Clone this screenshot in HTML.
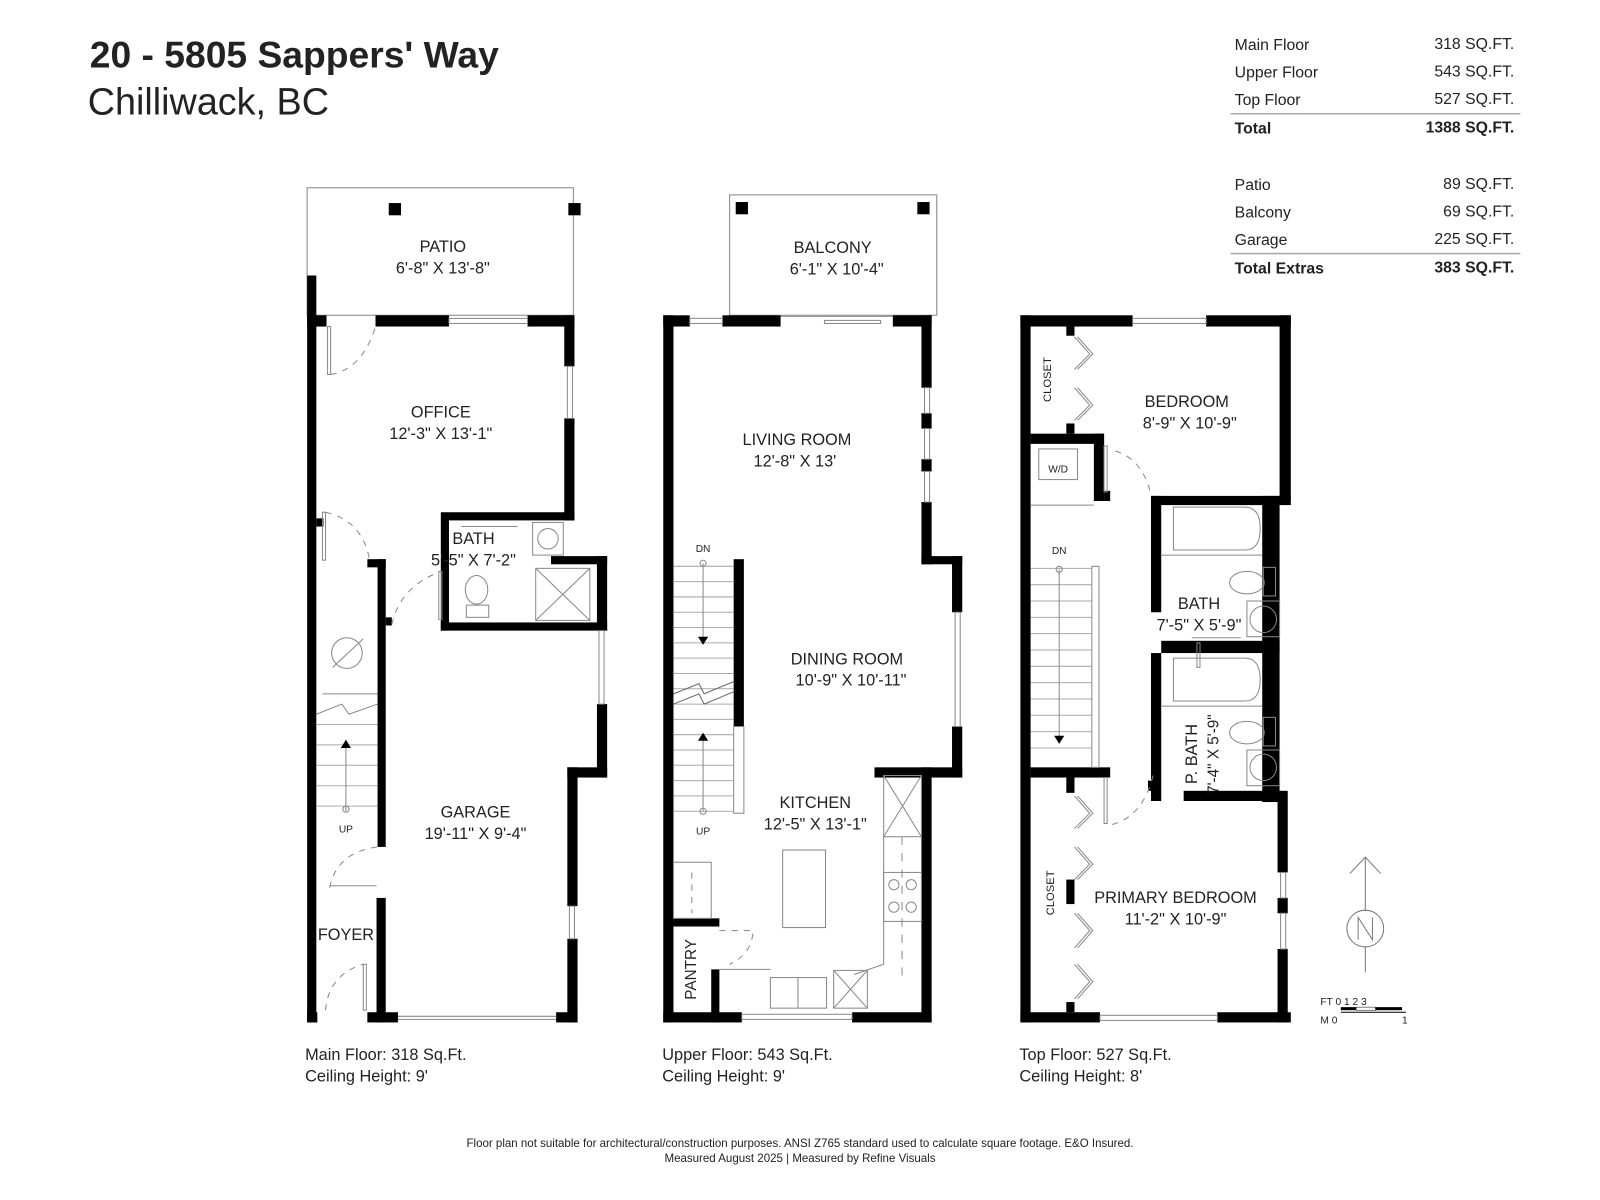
<!DOCTYPE html>
<html><head><meta charset="utf-8"><style>
html,body{margin:0;padding:0;background:#fff;}
svg{display:block;}
text{font-family:"Liberation Sans",sans-serif;fill:#222;}
</style></head><body>
<svg width="1600" height="1200" viewBox="0 0 1600 1200" xmlns="http://www.w3.org/2000/svg">
<g transform="scale(1.0204)">
<!-- Title -->
<text x="88" y="66" font-size="36.5" font-weight="bold" fill="#111">20 - 5805 Sappers' Way</text>
<text x="86" y="112" font-size="37" fill="#333">Chilliwack, BC</text>

<!-- Table -->
<g font-size="15.5" fill="#333">
<text x="1210" y="49">Main Floor</text><text x="1484" y="48" text-anchor="end">318 SQ.FT.</text>
<text x="1210" y="76">Upper Floor</text><text x="1484" y="75" text-anchor="end">543 SQ.FT.</text>
<text x="1210" y="103">Top Floor</text><text x="1484" y="102" text-anchor="end">527 SQ.FT.</text>
<text x="1210" y="131" font-weight="bold" fill="#111">Total</text><text x="1484" y="130" text-anchor="end" font-weight="bold" fill="#111">1388 SQ.FT.</text>
<text x="1210" y="186">Patio</text><text x="1484" y="185" text-anchor="end">89 SQ.FT.</text>
<text x="1210" y="213">Balcony</text><text x="1484" y="212" text-anchor="end">69 SQ.FT.</text>
<text x="1210" y="240">Garage</text><text x="1484" y="239" text-anchor="end">225 SQ.FT.</text>
<text x="1210" y="268" font-weight="bold" fill="#111">Total Extras</text><text x="1484" y="267" text-anchor="end" font-weight="bold" fill="#111">383 SQ.FT.</text>
</g>
<line x1="1206" y1="111.5" x2="1490" y2="111.5" stroke="#aaa" stroke-width="1.5"/>
<line x1="1206" y1="248.5" x2="1490" y2="248.5" stroke="#aaa" stroke-width="1.5"/>

<!-- ===== MAIN FLOOR ===== -->
<g>
<rect x="301" y="184" width="261" height="125" fill="none" stroke="#999" stroke-width="1.2"/>
<rect x="381" y="199" width="12" height="12" fill="#000"/>
<rect x="557" y="199" width="12" height="12" fill="#000"/>
<g fill="#000">
<rect x="301" y="270" width="9" height="732"/>
<rect x="301" y="309" width="19" height="11"/>
<rect x="368" y="309" width="72" height="11"/>
<rect x="517" y="309" width="46" height="11"/>
<rect x="553" y="309" width="10" height="50"/>
<rect x="553" y="410" width="10" height="100"/>
<rect x="440" y="502" width="123" height="8"/>
<rect x="432" y="502" width="8" height="116"/>
<rect x="540" y="545" width="55" height="8"/>
<rect x="585" y="545" width="10" height="73"/>
<rect x="432" y="610" width="163" height="8"/>
<rect x="585" y="690" width="10" height="72"/>
<rect x="556" y="752" width="39" height="10"/>
<rect x="556" y="752" width="10" height="136"/>
<rect x="556" y="920" width="10" height="82"/>
<rect x="301" y="992" width="10" height="10"/>
<rect x="360" y="992" width="30" height="10"/>
<rect x="545" y="992" width="21" height="10"/>
<rect x="370" y="548" width="8" height="282"/>
<rect x="360" y="548" width="18" height="8"/>
<rect x="378" y="605" width="6" height="8"/>
<rect x="369" y="880" width="9" height="122"/>
<rect x="310" y="508" width="7" height="8"/>
</g>
<g fill="none" stroke="#888" stroke-width="1">
<rect x="440" y="312" width="77" height="5"/>
<rect x="556" y="359" width="5" height="51"/>
<rect x="587" y="618" width="5" height="72"/>
<rect x="558" y="888" width="5" height="32"/>
<line x1="390" y1="996" x2="545" y2="996"/>
<line x1="390" y1="999" x2="545" y2="999"/>
<rect x="321" y="320" width="3" height="47"/>
<path d="M324 367 Q355 362 368 320" stroke-dasharray="6 6"/>
<rect x="316" y="502" width="3" height="47"/>
<path d="M319 502 Q355 510 362 548" stroke-dasharray="6 6"/>
<path d="M384 612 Q392 575 432 560" stroke-dasharray="6 6"/>
<rect x="430" y="560" width="3" height="47"/>
<path d="M323 870 Q330 835 370 830" stroke-dasharray="6 6"/>
<line x1="323" y1="868" x2="369" y2="868"/>
<rect x="356" y="945" width="3" height="45"/>
<path d="M319 990 Q322 955 356 945" stroke-dasharray="6 6"/>
<line x1="316" y1="680" x2="370" y2="680"/>
<path d="M310 700 L335 690 L342 700 L370 690"/>
<g stroke="#aaa"><line x1="310" y1="710" x2="370" y2="710"/><line x1="310" y1="730" x2="370" y2="730"/><line x1="310" y1="750" x2="370" y2="750"/><line x1="310" y1="770" x2="370" y2="770"/><line x1="310" y1="790" x2="370" y2="790"/></g>
<line x1="339" y1="725" x2="339" y2="795"/><circle cx="339" cy="793" r="3"/>
<circle cx="340" cy="640" r="15"/><line x1="326" y1="654" x2="356" y2="626"/>
<rect x="522" y="512" width="30" height="32"/><circle cx="537" cy="528" r="10"/>
<rect x="525" y="557" width="53" height="51"/><line x1="525" y1="557" x2="578" y2="608"/><line x1="578" y1="557" x2="525" y2="608"/>
<ellipse cx="467" cy="578" rx="11" ry="14"/><rect x="457" y="593" width="22" height="12"/>
<line x1="452" y1="516" x2="507" y2="516"/>
</g>
<polygon points="334,733 339,725 344,733" fill="#000"/>
<g font-size="16" text-anchor="middle">
<text x="434" y="247">PATIO</text><text x="434" y="268">6'-8" X 13'-8"</text>
<text x="432" y="409">OFFICE</text><text x="432" y="430">12'-3" X 13'-1"</text>
<text x="464" y="533">BATH</text><text x="464" y="554">5'-5" X 7'-2"</text>
<text x="466" y="801">GARAGE</text><text x="466" y="822">19'-11" X 9'-4"</text>
<text x="339" y="921">FOYER</text>
<text x="339" y="816" font-size="10">UP</text>
</g>
<text x="299" y="1039" font-size="16">Main Floor: 318 Sq.Ft.</text>
<text x="299" y="1060" font-size="16">Ceiling Height: 9'</text>
</g>

<!-- ===== UPPER FLOOR ===== -->
<g>
<rect x="715" y="191" width="203" height="118" fill="none" stroke="#999" stroke-width="1.2"/>
<rect x="721" y="198" width="12" height="12" fill="#000"/>
<rect x="899" y="198" width="12" height="12" fill="#000"/>
<g fill="#000">
<rect x="650" y="309" width="10" height="693"/>
<rect x="650" y="309" width="26" height="11"/>
<rect x="708" y="309" width="57" height="11"/>
<rect x="875" y="309" width="38" height="11"/>
<rect x="903" y="309" width="10" height="71"/>
<rect x="903" y="405" width="10" height="15"/>
<rect x="903" y="450" width="10" height="12"/>
<rect x="903" y="492" width="10" height="61"/>
<rect x="903" y="545" width="40" height="8"/>
<rect x="933" y="545" width="10" height="55"/>
<rect x="933" y="712" width="10" height="50"/>
<rect x="857" y="752" width="86" height="10"/>
<rect x="903" y="752" width="10" height="250"/>
<rect x="650" y="992" width="77" height="10"/>
<rect x="835" y="992" width="78" height="10"/>
<rect x="719" y="548" width="10" height="164"/>
<rect x="660" y="900" width="45" height="8"/>
<rect x="697" y="950" width="8" height="52"/>
</g>
<g fill="none" stroke="#888" stroke-width="1">
<rect x="676" y="312" width="32" height="5"/>
<line x1="765" y1="310" x2="875" y2="310"/>
<rect x="808" y="314" width="55" height="3"/>
<rect x="906" y="380" width="5" height="25"/><rect x="906" y="420" width="5" height="30"/><rect x="906" y="462" width="5" height="30"/>
<rect x="936" y="600" width="5" height="112"/>
<rect x="727" y="994" width="108" height="5"/>
<rect x="719" y="712" width="10" height="85"/>
<g stroke="#aaa"><line x1="660" y1="555" x2="719" y2="555"/><line x1="660" y1="570" x2="719" y2="570"/><line x1="660" y1="585" x2="719" y2="585"/><line x1="660" y1="600" x2="719" y2="600"/><line x1="660" y1="615" x2="719" y2="615"/><line x1="660" y1="630" x2="719" y2="630"/><line x1="660" y1="645" x2="719" y2="645"/><line x1="660" y1="660" x2="719" y2="660"/><line x1="660" y1="675" x2="719" y2="675"/><line x1="660" y1="690" x2="719" y2="690"/><line x1="660" y1="705" x2="719" y2="705"/><line x1="660" y1="720" x2="719" y2="720"/><line x1="660" y1="735" x2="719" y2="735"/><line x1="660" y1="750" x2="719" y2="750"/><line x1="660" y1="765" x2="719" y2="765"/><line x1="660" y1="780" x2="719" y2="780"/><line x1="660" y1="795" x2="719" y2="795"/></g>
<path d="M660 680 L685 670 L690 680 L719 668" stroke="#666"/>
<path d="M660 690 L685 680 L690 690 L719 678" stroke="#666"/>
<line x1="689" y1="552" x2="689" y2="627"/><circle cx="689" cy="552" r="3"/>
<line x1="689" y1="725" x2="689" y2="795"/><circle cx="689" cy="795" r="3"/>
<rect x="767" y="833" width="42" height="76"/>
<rect x="660" y="845" width="37" height="55"/>
<path d="M678 855 L678 895" stroke-dasharray="6 6"/>
<rect x="866" y="760" width="37" height="60"/><line x1="866" y1="760" x2="903" y2="820"/><line x1="903" y1="760" x2="866" y2="820"/>
<rect x="866" y="855" width="37" height="48"/>
<circle cx="876" cy="867" r="5"/><circle cx="893" cy="867" r="5"/><circle cx="876" cy="889" r="5"/><circle cx="893" cy="889" r="5"/>
<path d="M866 820 L866 945 L837 955" />
<path d="M884 820 L884 960" stroke-dasharray="8 8"/>
<rect x="755" y="958" width="55" height="30"/><line x1="782" y1="958" x2="782" y2="988"/>
<rect x="817" y="951" width="33" height="37"/><line x1="817" y1="951" x2="850" y2="988"/><line x1="850" y1="951" x2="817" y2="988"/>
<line x1="705" y1="950" x2="755" y2="950"/>
<path d="M705 912 L738 912 Q737 935 715 945" stroke-dasharray="6 6"/>
</g>
<polygon points="684,624 689,632 694,624" fill="#000"/>
<polygon points="684,726 689,718 694,726" fill="#000"/>
<g font-size="16" text-anchor="middle">
<text x="816" y="248">BALCONY</text><text x="820" y="269">6'-1" X 10'-4"</text>
<text x="781" y="436">LIVING ROOM</text><text x="779" y="457">12'-8"  X 13'</text>
<text x="830" y="651">DINING ROOM</text><text x="834" y="672">10'-9"  X 10'-11"</text>
<text x="799" y="792">KITCHEN</text><text x="799" y="813">12'-5" X 13'-1"</text>
<text x="689" y="541" font-size="10">DN</text>
<text x="689" y="818" font-size="10">UP</text>
<text transform="translate(682,950) rotate(-90)" font-size="15">PANTRY</text>
</g>
<text x="649" y="1039" font-size="16">Upper Floor: 543 Sq.Ft.</text>
<text x="649" y="1060" font-size="16">Ceiling Height: 9'</text>
</g>

<!-- ===== TOP FLOOR ===== -->
<g>
<g fill="#000">
<rect x="1000" y="309" width="10" height="693"/>
<rect x="1000" y="309" width="110" height="11"/>
<rect x="1182" y="309" width="83" height="11"/>
<rect x="1254" y="309" width="11" height="180"/>
<rect x="1128" y="486" width="137" height="9"/>
<rect x="1237" y="486" width="17" height="300"/>
<rect x="1128" y="486" width="10" height="114"/>
<rect x="1128" y="640" width="10" height="145"/>
<rect x="1138" y="628" width="116" height="12"/>
<rect x="1160" y="775" width="95" height="10"/>
<rect x="1252" y="775" width="10" height="80"/>
<rect x="1252" y="880" width="10" height="15"/>
<rect x="1252" y="930" width="10" height="72"/>
<rect x="1000" y="992" width="78" height="10"/>
<rect x="1193" y="992" width="72" height="10"/>
<rect x="1010" y="425" width="72" height="10"/>
<rect x="1072" y="425" width="10" height="66"/>
<rect x="1082" y="481" width="6" height="10"/>
<rect x="1010" y="752" width="78" height="10"/>
<rect x="1045" y="320" width="8" height="9"/><rect x="1045" y="415" width="8" height="10"/>
<rect x="1045" y="762" width="8" height="15"/><rect x="1045" y="862" width="8" height="24"/><rect x="1045" y="982" width="8" height="10"/>
<rect x="1125" y="765" width="10" height="10"/>
</g>
<g fill="none" stroke="#888" stroke-width="1">
<rect x="1110" y="312" width="72" height="5"/>
<rect x="1255" y="855" width="5" height="25"/><rect x="1255" y="895" width="5" height="35"/>
<rect x="1078" y="995" width="115" height="5"/>
<path d="M1053 330 L1068 347 L1053 362 M1056 330 L1071 347 L1056 362"/>
<path d="M1053 380 L1068 397 L1053 412 M1056 380 L1071 397 L1056 412"/>
<path d="M1053 780 L1068 797 L1053 812 M1056 780 L1071 797 L1056 812"/>
<path d="M1053 830 L1068 847 L1053 862 M1056 830 L1071 847 L1056 862"/>
<path d="M1053 895 L1068 912 L1053 929 M1056 895 L1071 912 L1056 929"/>
<path d="M1053 945 L1068 962 L1053 979 M1056 945 L1071 962 L1056 979"/>
<rect x="1018" y="440" width="38" height="30"/>
<line x1="1010" y1="495" x2="1072" y2="495"/>
<rect x="1082" y="437" width="3" height="45"/>
<path d="M1093 442 Q1120 450 1128 485" stroke-dasharray="6 6"/>
<g stroke="#aaa"><line x1="1010" y1="557" x2="1070" y2="557"/><line x1="1010" y1="573" x2="1070" y2="573"/><line x1="1010" y1="589" x2="1070" y2="589"/><line x1="1010" y1="605" x2="1070" y2="605"/><line x1="1010" y1="621" x2="1070" y2="621"/><line x1="1010" y1="637" x2="1070" y2="637"/><line x1="1010" y1="653" x2="1070" y2="653"/><line x1="1010" y1="669" x2="1070" y2="669"/><line x1="1010" y1="685" x2="1070" y2="685"/><line x1="1010" y1="701" x2="1070" y2="701"/><line x1="1010" y1="717" x2="1070" y2="717"/><line x1="1010" y1="733" x2="1070" y2="733"/></g>
<rect x="1070" y="555" width="7" height="197"/>
<line x1="1038" y1="558" x2="1038" y2="722"/><circle cx="1038" cy="558" r="3"/>
<rect x="1082" y="762" width="3" height="45"/>
<path d="M1090 808 Q1120 800 1130 760" stroke-dasharray="6 6"/>
<path d="M1150 497 L1220 497 Q1235 497 1235 518 Q1235 539 1220 539 L1150 539 Z"/>
<path d="M1150 645 L1220 645 Q1235 645 1235 666 Q1235 687 1220 687 L1150 687 Z"/>
<line x1="1138" y1="544" x2="1237" y2="544"/><line x1="1138" y1="692" x2="1237" y2="692"/>
<ellipse cx="1222" cy="571" rx="17" ry="11"/><rect x="1238" y="556" width="12" height="28"/>
<ellipse cx="1222" cy="718" rx="17" ry="11"/><rect x="1238" y="703" width="12" height="28"/>
<rect x="1222" y="589" width="32" height="35"/><circle cx="1238" cy="607" r="13"/>
<rect x="1222" y="735" width="32" height="35"/><circle cx="1238" cy="752" r="13"/>
<line x1="1168" y1="625" x2="1216" y2="625"/>
<rect x="1173" y="630" width="3" height="24"/>
</g>
<polygon points="1033,721 1038,729 1043,721" fill="#000"/>
<g font-size="16" text-anchor="middle">
<text x="1163" y="399">BEDROOM</text><text x="1166" y="420">8'-9" X 10'-9"</text>
<text x="1175" y="597">BATH</text><text x="1175" y="618">7'-5" X 5'-9"</text>
<text x="1152" y="885">PRIMARY BEDROOM</text><text x="1152" y="906">11'-2" X 10'-9"</text>
<text x="1037" y="463" font-size="10">W/D</text>
<text x="1038" y="543" font-size="10">DN</text>
<text transform="translate(1030,372) rotate(-90)" font-size="11">CLOSET</text>
<text transform="translate(1033,875) rotate(-90)" font-size="11">CLOSET</text>
<text transform="translate(1173,739) rotate(-90)" font-size="16">P. BATH</text>
<text transform="translate(1194,739) rotate(-90)" font-size="15">7'-4" X 5'-9"</text>
</g>
<text x="999" y="1039" font-size="16">Top Floor: 527 Sq.Ft.</text>
<text x="999" y="1060" font-size="16">Ceiling Height: 8'</text>
</g>

<!-- Compass & scale -->
<g fill="none" stroke="#777" stroke-width="1">
<line x1="1338" y1="840" x2="1338" y2="893"/>
<path d="M1323 856 L1338 840 L1353 856"/>
<circle cx="1338" cy="910" r="18"/>
<path d="M1331 921 L1331 899 L1345 921 L1345 899"/>
<line x1="1338" y1="928" x2="1338" y2="953"/>
</g>
<g font-size="10" fill="#444">
<text x="1294" y="985">FT 0  1  2  3</text>
<text x="1294" y="1003">M  0</text><text x="1374" y="1003">1</text>
</g>
<rect x="1314" y="987" width="15" height="3" fill="#000"/>
<rect x="1329" y="987" width="19" height="3" fill="#fff" stroke="#000" stroke-width=".5"/>
<rect x="1348" y="987" width="26" height="3" fill="#000"/>
<line x1="1314" y1="992" x2="1378" y2="992" stroke="#000"/>

<!-- footer -->
<text x="784" y="1124" font-size="11.3" text-anchor="middle">Floor plan not suitable for architectural/construction purposes. ANSI Z765 standard used to calculate square footage. E&amp;O Insured.</text>
<text x="784" y="1139" font-size="11.3" text-anchor="middle">Measured August 2025 | Measured by Refine Visuals</text>
</g>
</svg>
</body></html>
